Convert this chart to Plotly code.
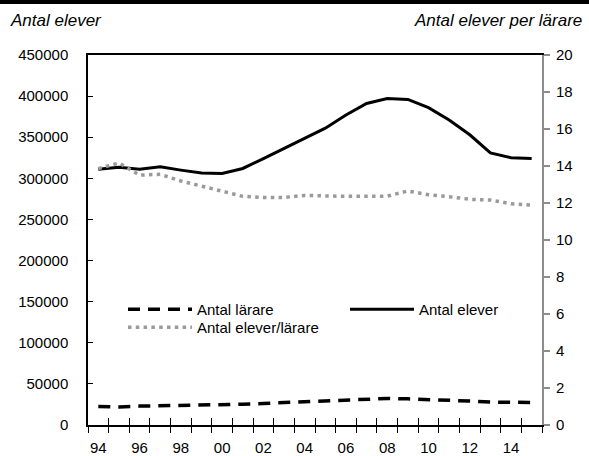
import plotly.graph_objects as go

years = list(range(1994, 2016))
tick_years = years[::2]
tick_labels = [str(y)[-2:] for y in tick_years]

antal_elever = [311000, 313500, 311000, 314000, 310000, 306500, 306000, 312000,
                324000, 336000, 349000, 361000, 377000, 391000, 397000, 396000,
                386000, 371000, 353000, 331000, 325000, 324000]
antal_larare = [22400, 22000, 23000, 23300, 23500, 23800, 24200, 25200,
                26200, 27200, 28200, 29200, 30400, 31600, 32300, 31800,
                31100, 30300, 29100, 27900, 27300, 27400]
elever_per_larare = [13.86, 14.16, 13.51, 13.55, 13.19, 12.92, 12.67, 12.36,
                     12.30, 12.30, 12.41, 12.37, 12.36, 12.37, 12.37, 12.65,
                     12.45, 12.34, 12.20, 12.16, 11.96, 11.89]

left_ticks = list(range(0, 450001, 50000))
right_ticks = list(range(0, 21, 2))

FAMILY = "Liberation Sans, Arial, sans-serif"
TICKFONT = dict(family=FAMILY, size=15, color="#000")
TITLEFONT = dict(family=FAMILY, size=17, color="#000", style="italic")
LEGFONT = dict(family=FAMILY, size=15, color="#000")

fig = go.Figure()
fig.add_trace(go.Scatter(x=years, y=antal_larare, name="Antal lärare", mode="lines",
                         line=dict(color="#000", width=3.5, dash="12px,8px"),
                         legend="legend", yaxis="y"))
fig.add_trace(go.Scatter(x=years, y=antal_elever, name="Antal elever", mode="lines",
                         line=dict(color="#000", width=3),
                         legend="legend", yaxis="y"))
fig.add_trace(go.Scatter(x=years, y=elever_per_larare, name="Antal elever/lärare", mode="lines",
                         line=dict(color="#9a9a9a", width=3.5, dash="3.5px,4.3px"),
                         legend="legend2", yaxis="y2"))
# invisible helper carrying the inner half of the crossing x ticks
fig.add_trace(go.Scatter(x=[years[0]], y=[0], xaxis="x2", yaxis="y", mode="markers",
                         marker=dict(opacity=0), showlegend=False, hoverinfo="skip"))

W, H = 589, 456
L, R, T, B = 88, 47, 55, 31
pw, ph = W - L - R, H - T - B

def px_x(px):
    return (px - L) / pw

def px_y(py):
    return (H - B - py) / ph

fig.update_layout(
    width=W, height=H,
    margin=dict(l=L, r=R, t=T, b=B, pad=0, autoexpand=False),
    paper_bgcolor="white", plot_bgcolor="white",
    showlegend=True,
    xaxis=dict(range=[years[0] - 0.5, years[-1] + 0.5], tickmode="array",
               tickvals=tick_years, ticktext=tick_labels, ticks="outside", ticklen=0,
               tickfont=TICKFONT, ticklabelstandoff=8, automargin=False,
               showline=True, linecolor="#000", linewidth=1.5,
               mirror=True, showgrid=False, zeroline=False,
               minor=dict(tick0=years[0] - 0.5, dtick=1, ticks="outside", ticklen=6,
                          tickcolor="#000", tickwidth=1, showgrid=False)),
    xaxis2=dict(range=[years[0] - 0.5, years[-1] + 0.5], overlaying="x", matches="x",
                showticklabels=False, showline=False, showgrid=False, zeroline=False,
                automargin=False, ticks="inside", ticklen=0, tickvals=tick_years,
                minor=dict(tick0=years[0] - 0.5, dtick=1, ticks="inside", ticklen=7,
                           tickcolor="#000", tickwidth=1, showgrid=False)),
    yaxis=dict(range=[0, 450000], tickmode="array", tickvals=left_ticks,
               ticktext=[str(v) for v in left_ticks], ticks="inside", ticklen=5,
               tickcolor="#000", tickwidth=1, tickfont=TICKFONT, ticklabelstandoff=15,
               automargin=False, showline=True, linecolor="#000", linewidth=1.5,
               showgrid=False, zeroline=False),
    yaxis2=dict(range=[0, 20], overlaying="y", side="right", tickmode="array",
                tickvals=right_ticks, ticktext=[str(v) for v in right_ticks],
                ticks="outside", ticklen=6, tickcolor="#8c8c8c", tickwidth=1.5,
                tickfont=TICKFONT, ticklabelstandoff=3, automargin=False, showline=True,
                linecolor="#8c8c8c", linewidth=2, showgrid=False, zeroline=False),
    legend=dict(orientation="h", x=px_x(123), y=px_y(293), xanchor="left", yanchor="top",
                bgcolor="rgba(0,0,0,0)", font=LEGFONT,
                itemwidth=64, entrywidth=143, entrywidthmode="pixels"),
    legend2=dict(orientation="h", x=px_x(123), y=px_y(311), xanchor="left", yanchor="top",
                 bgcolor="rgba(0,0,0,0)", font=LEGFONT, itemwidth=64),
    shapes=[dict(type="rect", xref="paper", yref="paper", x0=px_x(0), x1=px_x(W),
                 y0=px_y(4), y1=px_y(0), fillcolor="#000", line=dict(width=0), layer="above")],
    annotations=[
        dict(text="Antal elever", xref="paper", yref="paper", x=px_x(8), y=px_y(20),
             xanchor="left", yanchor="middle", showarrow=False, font=TITLEFONT),
        dict(text="Antal elever per lärare", xref="paper", yref="paper", x=px_x(584), y=px_y(20),
             xanchor="right", yanchor="middle", showarrow=False, font=TITLEFONT),
    ],
)

fig.write_html("out.html", config={"displayModeBar": False},
               post_script="document.body.style.margin='0';document.body.style.overflow='hidden';")
